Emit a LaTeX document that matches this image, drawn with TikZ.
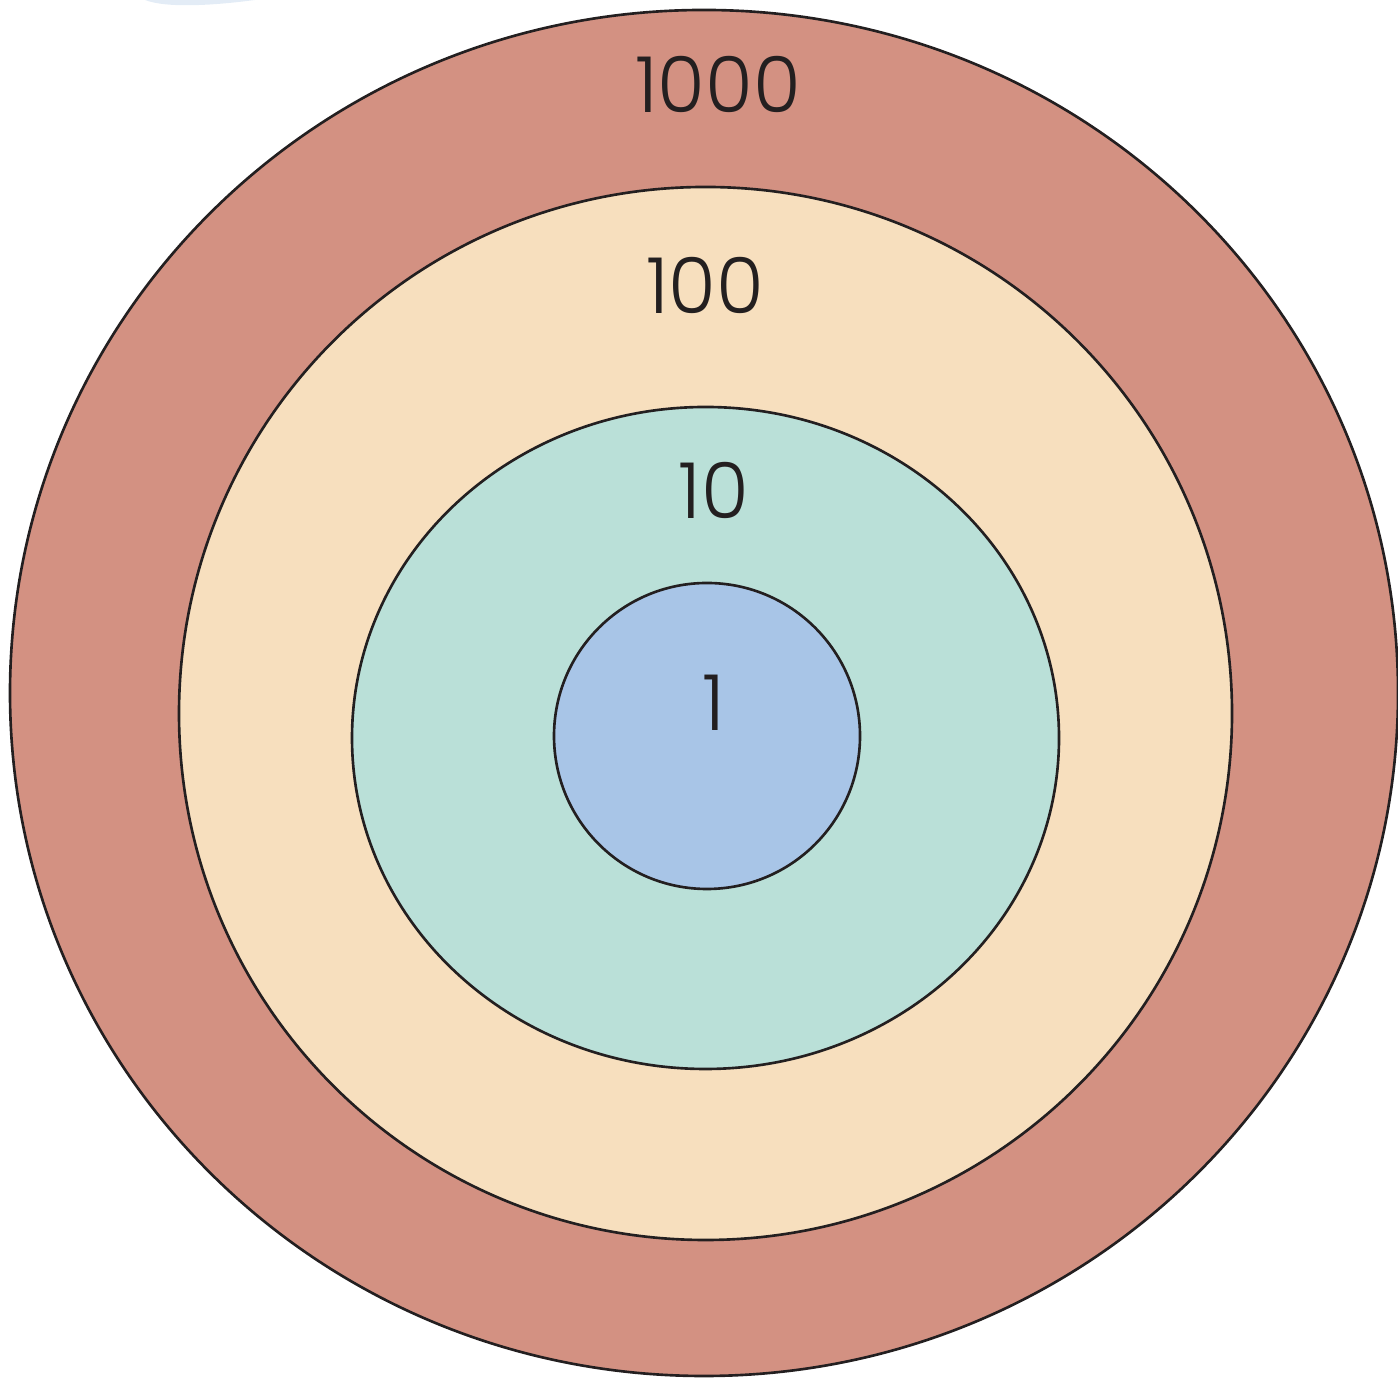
\documentclass[tikz,border=0pt]{standalone}
\usepackage{fontspec}
\setmainfont{Poppins}[UprightFont=* Light]
\usepackage{tikz}
\definecolor{ringouter}{HTML}{D39182}
\definecolor{ringsand}{HTML}{F7DFBE}
\definecolor{ringmint}{HTML}{BAE0D8}
\definecolor{ringblue}{HTML}{A8C5E7}
\definecolor{inkline}{HTML}{231F20}
\definecolor{smudge}{HTML}{E3ECF6}
\tikzset{
  ring/.style={draw=inkline,line width=0.75pt},
  num/.style={font=\fontsize{22}{26}\selectfont,text=inkline,inner sep=0pt}
}
\begin{document}
\begin{tikzpicture}
\useasboundingbox (0,0) rectangle (13.98,13.78);
% faint smudge at the top edge
\fill[smudge] (1.45,13.78) .. controls (1.65,13.70) and (2.1,13.72) .. (2.55,13.78) -- cycle;
% rings from outside in
\draw[ring,fill=ringouter] (7.04,6.85) ellipse [x radius=6.94,y radius=6.83];
\draw[ring,fill=ringsand] (7.055,6.645) ellipse [x radius=5.265,y radius=5.265];
\draw[ring,fill=ringmint] (7.055,6.40) ellipse [x radius=3.535,y radius=3.31];
\draw[ring,fill=ringblue] (7.07,6.42) circle [radius=1.53];
% labels
\node[num] (n1000) at (7.18,12.93) {1000};
\node[num] (n100) at (7.05,10.93) {100};
\node[num] (n10) at (7.14,8.88) {10};
\node[num] (n1) at (7.14,6.75) {1};
\end{tikzpicture}
\end{document}
